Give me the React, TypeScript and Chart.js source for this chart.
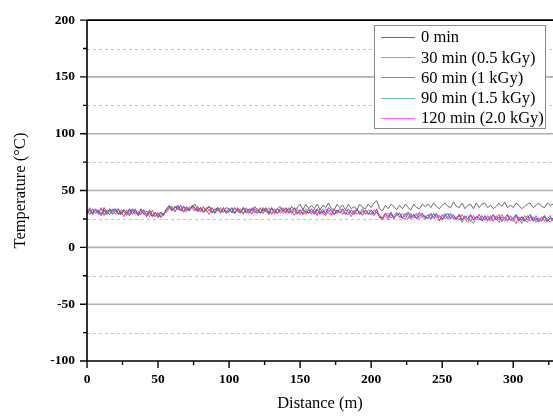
import React, { useEffect, useRef } from "react";
import { Chart, registerables } from "chart.js";

Chart.register(...registerables);

// Sampling grid: one reading every 2 m
const DISTANCE_STEP = 2;

const seriesLabels = ["0 min", "30 min (0.5 kGy)", "60 min (1 kGy)", "90 min (1.5 kGy)", "120 min (2.0 kGy)"];
const seriesColors = ["#6a6a6a", "#ff4f4f", "#4a4aff", "#45a5a5", "#ff3cff"];
const legendColors = ["#666666", "#ff7878", "#7878ff", "#66baba", "#ff66ff"];

const temp0 = [
  29, 33, 30, 34, 31, 28, 33, 30, 34, 29,
  32, 34, 29, 33, 30, 28, 33, 31, 29, 34,
  30, 27, 33, 28, 31, 26, 30, 28, 34, 36,
  32, 36, 33, 37, 31, 35, 33, 36, 38, 33,
  35, 31, 34, 36, 32, 30, 35, 33, 31, 35,
  34, 31, 35, 32, 30, 35, 31, 34, 32, 36,
  33, 30, 35, 32, 29, 35, 31, 34, 36, 32,
  35, 31, 36, 33, 35, 38, 33, 38, 34, 37,
  34, 38, 33, 37, 35, 39, 34, 33, 38, 35,
  37, 33, 38, 34, 36, 33, 38, 35, 34, 38,
  35, 39, 41, 34, 32, 37, 34, 38, 36, 33,
  37, 34, 38, 35, 33, 38, 35, 34, 38, 36,
  38, 35, 39, 36, 34, 37, 39, 36, 35, 40,
  36, 35, 39, 34, 37, 38, 34, 39, 35, 38,
  39, 35, 37, 34, 36, 39, 36, 40, 35, 37,
  35, 39, 37, 34, 36, 38, 39, 35, 37, 39,
  36, 35, 39, 37, 38,
];

const temp30 = [
  31, 35, 29, 33, 30, 35, 28, 33, 31, 34,
  29, 33, 31, 27, 33, 29, 34, 31, 28, 33,
  29, 32, 27, 33, 27, 30, 26, 29, 33, 35,
  36, 31, 36, 33, 35, 31, 36, 34, 32, 36,
  31, 35, 33, 29, 35, 31, 34, 30, 35, 31,
  34, 30, 35, 31, 34, 29, 34, 32, 29, 34,
  31, 35, 30, 34, 32, 29, 34, 30, 32, 35,
  30, 34, 32, 28, 34, 30, 33, 29, 34, 30,
  32, 28, 34, 30, 28, 33, 29, 34, 30, 32,
  29, 33, 31, 27, 33, 29, 31, 34, 29, 33,
  31, 28, 34, 26, 24, 30, 26, 29, 25, 30,
  26, 30, 28, 25, 30, 26, 28, 31, 26, 28,
  25, 29, 27, 30, 23, 29, 25, 27, 30, 25,
  27, 24, 29, 25, 22, 28, 24, 26, 29, 24,
  26, 23, 28, 24, 26, 29, 23, 26, 24, 28,
  25, 21, 27, 23, 28, 24, 27, 23, 25, 22,
  27, 23, 25, 28, 23,
];

const temp60 = [
  33, 29, 34, 30, 33, 29, 35, 31, 29, 33,
  34, 30, 29, 33, 30, 34, 29, 33, 30, 29,
  33, 29, 31, 27, 30, 28, 31, 29, 34, 37,
  33, 35, 37, 32, 36, 34, 32, 37, 35, 32,
  35, 31, 33, 36, 31, 33, 35, 31, 34, 30,
  32, 35, 30, 34, 31, 35, 32, 30, 34, 32,
  30, 34, 32, 35, 30, 34, 31, 30, 34, 32,
  34, 30, 32, 35, 30, 33, 29, 32, 30, 34,
  30, 34, 29, 32, 30, 35, 32, 29, 33, 30,
  34, 30, 29, 33, 30, 34, 29, 32, 31, 29,
  33, 29, 31, 27, 26, 30, 27, 31, 26, 28,
  30, 26, 28, 31, 26, 29, 25, 28, 30, 26,
  29, 25, 30, 26, 28, 25, 27, 30, 25, 28,
  25, 29, 24, 27, 25, 29, 24, 27, 26, 23,
  28, 24, 26, 29, 24, 27, 23, 26, 29, 24,
  26, 29, 24, 27, 23, 26, 29, 24, 26, 23,
  25, 28, 23, 26, 25,
];

const temp90 = [
  30, 33, 29, 33, 31, 34, 30, 29, 33, 31,
  33, 29, 31, 33, 29, 31, 34, 29, 31, 33,
  29, 32, 30, 27, 30, 28, 27, 30, 33, 35,
  32, 36, 34, 32, 36, 33, 34, 36, 32, 35,
  33, 31, 35, 33, 30, 34, 32, 35, 31, 33,
  31, 34, 30, 34, 32, 30, 35, 32, 30, 34,
  32, 30, 34, 31, 35, 30, 32, 34, 30, 32,
  31, 34, 30, 32, 29, 33, 30, 34, 30, 32,
  29, 33, 30, 34, 29, 31, 33, 29, 31, 34,
  31, 29, 33, 30, 29, 33, 31, 29, 33, 30,
  29, 31, 33, 28, 26, 29, 30, 26, 28, 31,
  27, 26, 30, 28, 25, 29, 26, 30, 28, 25,
  26, 30, 25, 29, 27, 24, 29, 25, 27, 29,
  24, 28, 22, 26, 28, 24, 21, 27, 24, 28,
  24, 27, 23, 28, 25, 22, 27, 23, 28, 24,
  23, 27, 25, 21, 25, 28, 23, 27, 22, 26,
  23, 27, 25, 22, 26,
];

const temp120 = [
  30, 34, 31, 33, 29, 34, 32, 29, 34, 31,
  33, 29, 33, 31, 28, 33, 31, 34, 28, 31,
  33, 28, 31, 29, 27, 31, 27, 30, 31, 34,
  35, 32, 36, 34, 31, 36, 33, 36, 34, 31,
  33, 36, 31, 33, 35, 30, 33, 31, 35, 30,
  34, 31, 30, 35, 31, 34, 30, 32, 35, 30,
  34, 31, 30, 34, 31, 35, 29, 34, 32, 30,
  32, 35, 30, 34, 31, 29, 34, 30, 33, 29,
  34, 30, 32, 29, 34, 30, 28, 33, 30, 34,
  32, 29, 34, 30, 29, 33, 31, 28, 33, 30,
  29, 33, 31, 27, 25, 28, 24, 30, 26, 29,
  30, 26, 25, 30, 28, 26, 30, 25, 29, 27,
  26, 30, 25, 29, 24, 27, 30, 25, 29, 26,
  25, 29, 24, 28, 25, 23, 28, 24, 29, 25,
  24, 28, 25, 23, 28, 24, 29, 25, 23, 27,
  24, 28, 23, 27, 24, 22, 27, 23, 28, 24,
  23, 27, 22, 26, 24,
];

const seriesValues = [temp0, temp30, temp60, temp90, temp120];

const yMajorTicks = [-100, -50, 0, 50, 100, 150, 200];
const yMinorTicks = [-75, -25, 25, 75, 125, 175];
const xMajorTicks = [0, 50, 100, 150, 200, 250, 300];
const xMinorTicks = [25, 75, 125, 175, 225, 275, 325];

const SERIF = "'Liberation Serif', 'DejaVu Serif', serif";

const framePlugin = {
  id: "frame",
  beforeDatasetsDraw(chart: any) {
    const { ctx, chartArea } = chart;
    const y = chart.scales.y;
    ctx.save();
    ctx.lineWidth = 1;
    ctx.strokeStyle = "#c4c4c4";
    ctx.setLineDash([3, 3]);
    yMinorTicks.forEach((v) => {
      const py = Math.round(y.getPixelForValue(v)) + 0.5;
      ctx.beginPath();
      ctx.moveTo(chartArea.left, py);
      ctx.lineTo(chartArea.right, py);
      ctx.stroke();
    });
    ctx.setLineDash([]);
    ctx.lineWidth = 1.6;
    ctx.strokeStyle = "#b0b0b0";
    yMajorTicks.forEach((v) => {
      if (v === 200 || v === -100) return;
      const py = y.getPixelForValue(v);
      ctx.beginPath();
      ctx.moveTo(chartArea.left, py);
      ctx.lineTo(chartArea.right, py);
      ctx.stroke();
    });
    ctx.restore();
  },
  afterDatasetsDraw(chart: any) {
    const { ctx, chartArea } = chart;
    const y = chart.scales.y;
    const x = chart.scales.x;
    ctx.save();
    ctx.strokeStyle = "#000";
    ctx.lineWidth = 1.6;
    ctx.beginPath();
    ctx.moveTo(chartArea.left, chartArea.top);
    ctx.lineTo(chartArea.right, chartArea.top);
    ctx.moveTo(chartArea.left, chartArea.top);
    ctx.lineTo(chartArea.left, chartArea.bottom);
    ctx.lineTo(chartArea.right, chartArea.bottom);
    ctx.stroke();
    ctx.lineWidth = 1.4;
    ctx.beginPath();
    yMajorTicks.forEach((v) => {
      const py = y.getPixelForValue(v);
      ctx.moveTo(chartArea.left - 7, py);
      ctx.lineTo(chartArea.left, py);
    });
    yMinorTicks.forEach((v) => {
      const py = y.getPixelForValue(v);
      ctx.moveTo(chartArea.left - 4, py);
      ctx.lineTo(chartArea.left, py);
    });
    xMajorTicks.forEach((v) => {
      const px = x.getPixelForValue(v);
      ctx.moveTo(px, chartArea.bottom);
      ctx.lineTo(px, chartArea.bottom + 7);
    });
    xMinorTicks.forEach((v) => {
      const px = x.getPixelForValue(v);
      if (px > chartArea.right) return;
      ctx.moveTo(px, chartArea.bottom);
      ctx.lineTo(px, chartArea.bottom + 4);
    });
    ctx.stroke();
    ctx.restore();
  },
  afterDraw(chart: any) {
    const { ctx } = chart;
    const boxL = 374, boxT = 25, boxR = 545, boxB = 128;
    ctx.save();
    ctx.fillStyle = "#fff";
    ctx.fillRect(boxL, boxT, boxR - boxL, boxB - boxT);
    ctx.strokeStyle = "#8a8a8a";
    ctx.lineWidth = 1;
    ctx.strokeRect(boxL + 0.5, boxT + 0.5, boxR - boxL, boxB - boxT);
    ctx.font = `16.5px ${SERIF}`;
    ctx.textBaseline = "middle";
    ctx.textAlign = "left";
    chart.data.datasets.forEach((ds: any, i: number) => {
      const ry = 37 + i * 20.2;
      ctx.strokeStyle = legendColors[i];
      ctx.lineWidth = 1.2;
      ctx.beginPath();
      ctx.moveTo(381, Math.round(ry) + 0.5);
      ctx.lineTo(415, Math.round(ry) + 0.5);
      ctx.stroke();
      ctx.fillStyle = "#000";
      ctx.fillText(ds.label, 421, ry + 1);
    });
    ctx.restore();
  },
};

export default function App() {
  const canvasRef = useRef<HTMLCanvasElement | null>(null);

  useEffect(() => {
    const canvas = canvasRef.current;
    if (!canvas) return;
    const datasets = seriesValues.map((vals, i) => ({
      label: seriesLabels[i],
      data: vals.map((v, j) => ({ x: j * DISTANCE_STEP, y: v })),
      borderColor: seriesColors[i],
      borderWidth: 1,
      pointRadius: 0,
      tension: 0,
      fill: false,
    }));
    const chart = new Chart(canvas, {
      type: "line",
      data: { datasets },
      options: {
        responsive: false,
        maintainAspectRatio: false,
        animation: false,
        layout: { padding: { top: 13, left: 0, right: 0, bottom: 0 } },
        plugins: {
          legend: { display: false },
          tooltip: { enabled: false },
        },
        scales: {
          x: {
            type: "linear",
            min: 0,
            max: 328,
            grid: { display: false, drawTicks: false },
            border: { display: false },
            ticks: {
              stepSize: 50,
              includeBounds: false,
              padding: 10,
              color: "#000",
              font: { family: SERIF, size: 13.5, weight: "bold" },
              maxRotation: 0,
            },
            title: {
              display: true,
              text: "Distance (m)",
              color: "#000",
              font: { family: SERIF, size: 16.5 },
              padding: { top: 0, bottom: 3 },
            },
            afterFit: (s: any) => {
              s.height = 56;
            },
          },
          y: {
            min: -100,
            max: 200,
            grid: { display: false, drawTicks: false },
            border: { display: false },
            ticks: {
              stepSize: 50,
              padding: 12,
              color: "#000",
              font: { family: SERIF, size: 13.5, weight: "bold" },
            },
            title: {
              display: true,
              text: "Temperature (°C)",
              color: "#000",
              font: { family: SERIF, size: 16.5 },
              padding: { top: 11, bottom: 0 },
            },
            afterFit: (s: any) => {
              s.width = 87;
            },
          },
        },
      },
      plugins: [framePlugin],
    } as any);
    return () => chart.destroy();
  }, []);

  return (
    <div style={{ position: "fixed", left: 0, top: 0, width: 553, height: 417, background: "#fff" }}>
      <canvas ref={canvasRef} width={553} height={417} />
    </div>
  );
}
